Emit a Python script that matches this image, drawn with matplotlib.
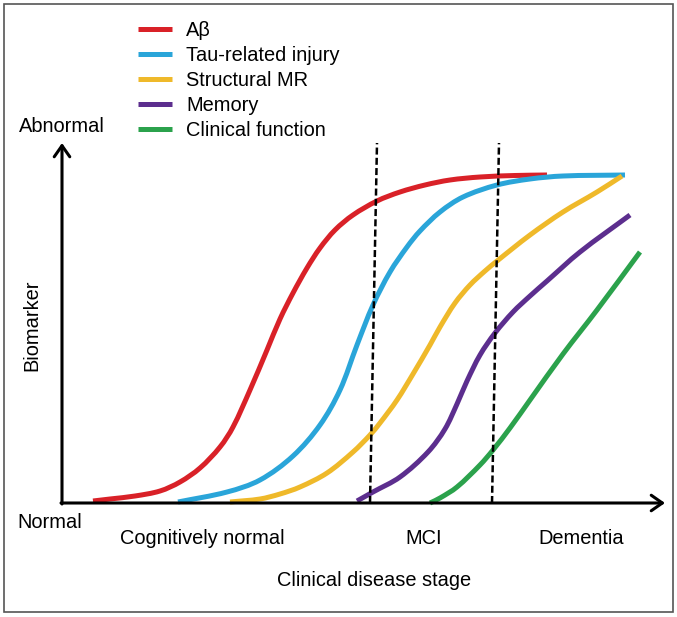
"""Hypothetical biomarker cascade across clinical disease stages."""

import numpy as np
import matplotlib.pyplot as plt
from matplotlib.lines import Line2D
from matplotlib.patches import PathPatch, Rectangle
from matplotlib.path import Path

plt.rcParams["font.family"] = ["Liberation Sans", "DejaVu Sans"]

# curve points: stage (x) vs biomarker level (y)
abeta_x = [31, 48, 73, 98, 118, 138, 158, 171, 188, 205, 218, 231, 245, 258, 273, 291, 315, 338, 363, 388, 418, 453, 485]
abeta_y = [2, 4, 7, 12, 21, 35, 56, 76, 113, 153, 184, 210, 235, 255, 273, 288, 302, 311, 318, 323, 326, 327.5, 328]

tau_x = [116, 165, 198, 231, 258, 278, 295, 311, 328, 345, 358, 378, 401, 435, 468, 501, 563]
tau_y = [1, 11, 23, 47, 78, 113, 158, 198, 231, 256, 272, 291, 306, 318, 324, 327, 328]

mr_x = [168, 198, 218, 238, 265, 291, 308, 318, 335, 351, 368, 378, 393, 408, 423, 435, 468, 501, 535, 560]
mr_y = [1, 4, 9, 16, 30, 51, 68, 80, 103, 129, 158, 176, 200, 218, 232, 242, 268, 291, 311, 327]

memory_x = [295, 311, 338, 366, 383, 395, 405, 418, 433, 451, 468, 485, 518, 568]
memory_y = [2, 11, 26, 51, 74, 99, 122, 148, 170, 191, 207, 222, 251, 288]

clinical_x = [368, 378, 395, 418, 431, 448, 468, 501, 535, 578]
clinical_y = [0, 5, 16, 38, 53, 75, 103, 149, 193, 251]

series_names = ["A\u03b2", "Tau-related injury", "Structural MR", "Memory", "Clinical function"]
series_colors = ["#d92128", "#2aa5d9", "#efb92a", "#5c2e8e", "#2ba24c"]

# stage boundaries (dashed), slightly slanted in the original drawing
boundary_bottom = [308, 430]
boundary_top = [315, 437]

stage_labels = ["Cognitively normal", "MCI", "Dementia"]

W, H = 677, 617


def smooth_path(xs, ys) -> Path:
    """Chord-length Bezier path through the traced points."""
    pts = np.column_stack([xs, ys]).astype(float)
    t = np.concatenate([[0.0], np.cumsum(np.hypot(*np.diff(pts, axis=0).T))])
    tang = np.empty_like(pts)
    tang[0] = (pts[1] - pts[0]) / (t[1] - t[0])
    tang[-1] = (pts[-1] - pts[-2]) / (t[-1] - t[-2])
    tang[1:-1] = (pts[2:] - pts[:-2]) / (t[2:] - t[:-2])[:, None]
    verts = [pts[0]]
    codes = [Path.MOVETO]
    for i in range(len(pts) - 1):
        h = t[i + 1] - t[i]
        verts += [pts[i] + tang[i] * h / 3, pts[i + 1] - tang[i + 1] * h / 3, pts[i + 1]]
        codes += [Path.CURVE4] * 3
    return Path(verts, codes)


def main() -> None:
    fig = plt.figure(figsize=(W / 100, H / 100), dpi=100)
    ax = fig.add_axes([62 / W, 114 / H, 603 / W, 360 / H])
    ax.set_xlim(0, 603)
    ax.set_ylim(0, 360)
    ax.axis("off")

    series = [
        (abeta_x, abeta_y),
        (tau_x, tau_y),
        (mr_x, mr_y),
        (memory_x, memory_y),
        (clinical_x, clinical_y),
    ]
    for (xs, ys), color in zip(series, series_colors):
        ax.add_patch(PathPatch(smooth_path(xs, ys), fill=False, edgecolor=color, lw=3.6,
                               capstyle="butt", joinstyle="round", clip_on=False, zorder=3))

    for xb, xt in zip(boundary_bottom, boundary_top):
        ax.plot([xb, xt], [0, 360], color="black", lw=1.8, dashes=(2.8, 1.3),
                clip_on=False, zorder=4)

    arrow = dict(arrowstyle="->,head_length=0.4,head_width=0.28", lw=2.2,
                 color="black", shrinkA=0, shrinkB=0, mutation_scale=20)
    ax.annotate("", xy=(603, 0), xytext=(-1, 0), arrowprops=arrow,
                annotation_clip=False, zorder=5)
    ax.annotate("", xy=(0, 360), xytext=(0, -1), arrowprops=arrow,
                annotation_clip=False, zorder=5)

    fs = 14.4
    ax.text(0, 377, "Abnormal", ha="center", va="center", fontsize=fs, clip_on=False)
    ax.text(-12, -19, "Normal", ha="center", va="center", fontsize=fs, clip_on=False)
    ax.text(-30, 178, "Biomarker", ha="center", va="center", rotation=90,
            fontsize=fs, clip_on=False)
    for label, x in zip(stage_labels, [140, 362, 519]):
        ax.text(x, -35, label, ha="center", va="center", fontsize=fs, clip_on=False)
    ax.text(312, -78, "Clinical disease stage", ha="center", va="center",
            fontsize=fs, clip_on=False)

    handles = [Line2D([], [], color=c, lw=3.6, solid_capstyle="butt") for c in series_colors]
    fig.legend(handles, series_names, loc="upper left",
               bbox_to_anchor=(138 / W, 1 - 21 / H), frameon=False, fontsize=fs,
               handlelength=1.7, handletextpad=0.7, labelspacing=0.30,
               borderpad=0, borderaxespad=0)

    fig.add_artist(Rectangle((4 / W, 5 / H), 669 / W, 608 / H, transform=fig.transFigure,
                             fill=False, edgecolor="#555555", lw=1.2))

    fig.savefig("out.png", dpi=100)
    plt.close(fig)


if __name__ == "__main__":
    main()
